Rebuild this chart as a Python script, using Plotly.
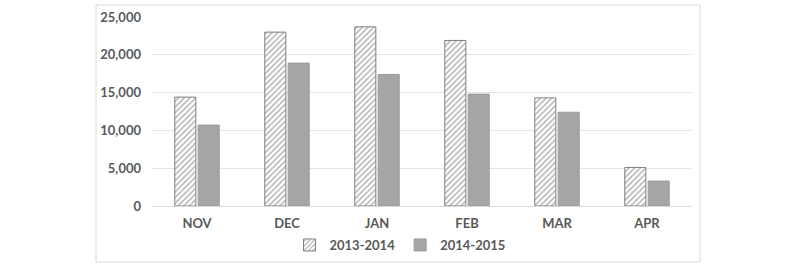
import plotly.graph_objects as go

months = ["NOV", "DEC", "JAN", "FEB", "MAR", "APR"]
s2013 = [14400, 23000, 23700, 21900, 14300, 5100]
s2014 = [10700, 18900, 17400, 14800, 12400, 3300]
y_ticks = [0, 5000, 10000, 15000, 20000, 25000]

font = dict(family="Lato, 'Open Sans', sans-serif", size=13, color="#595959")

fig = go.Figure()
fig.add_trace(go.Bar(
    x=months, y=s2013, name="2013-2014",
    marker=dict(color="white", line=dict(color="#7f7f7f", width=1),
                pattern=dict(shape="/", fgcolor="#595959", bgcolor="white", size=4, solidity=0.35)),
))
fig.add_trace(go.Bar(
    x=months, y=s2014, name="2014-2015",
    marker=dict(color="#a6a6a6", line=dict(color="#999999", width=1)),
))

L, R, T, B = 152, 692, 17, 206
W, H = 800, 265
pw, ph = R - L, B - T
fig.add_shape(type="rect", xref="paper", yref="paper",
              x0=(96 - L) / pw, x1=(700 - L) / pw,
              y0=(B - 262) / ph, y1=(B - 5) / ph,
              line=dict(color="#d9d9d9", width=1), layer="below")

fig.update_layout(
    width=W, height=H,
    margin=dict(l=L, r=W - R, t=T, b=H - B, autoexpand=False),
    paper_bgcolor="white", plot_bgcolor="white",
    barmode="group", bargap=0.48, bargroupgap=0.1,
    font=font,
    showlegend=True,
    legend=dict(orientation="h", x=0.5, xanchor="center", xref="container",
                y=1 - 230 / H, yanchor="top", yref="container",
                bgcolor="rgba(0,0,0,0)",
                font=dict(size=13, color="#595959", family="Lato, sans-serif", weight="bold"),
                itemwidth=30, tracegroupgap=0),
    xaxis=dict(showgrid=False, showline=True, linecolor="#d9d9d9", ticks="", automargin=False,
               tickfont=dict(size=13, color="#595959", weight="bold"), ticklabelstandoff=5),
    yaxis=dict(range=[0, 25000], tickvals=y_ticks, tickformat=",d", automargin=False,
               showgrid=True, gridcolor="#e6e6e6", zeroline=False, showline=False,
               tickfont=dict(size=13, color="#595959", weight="bold"), ticklabelstandoff=10),
)
fig.write_html("out.html")
